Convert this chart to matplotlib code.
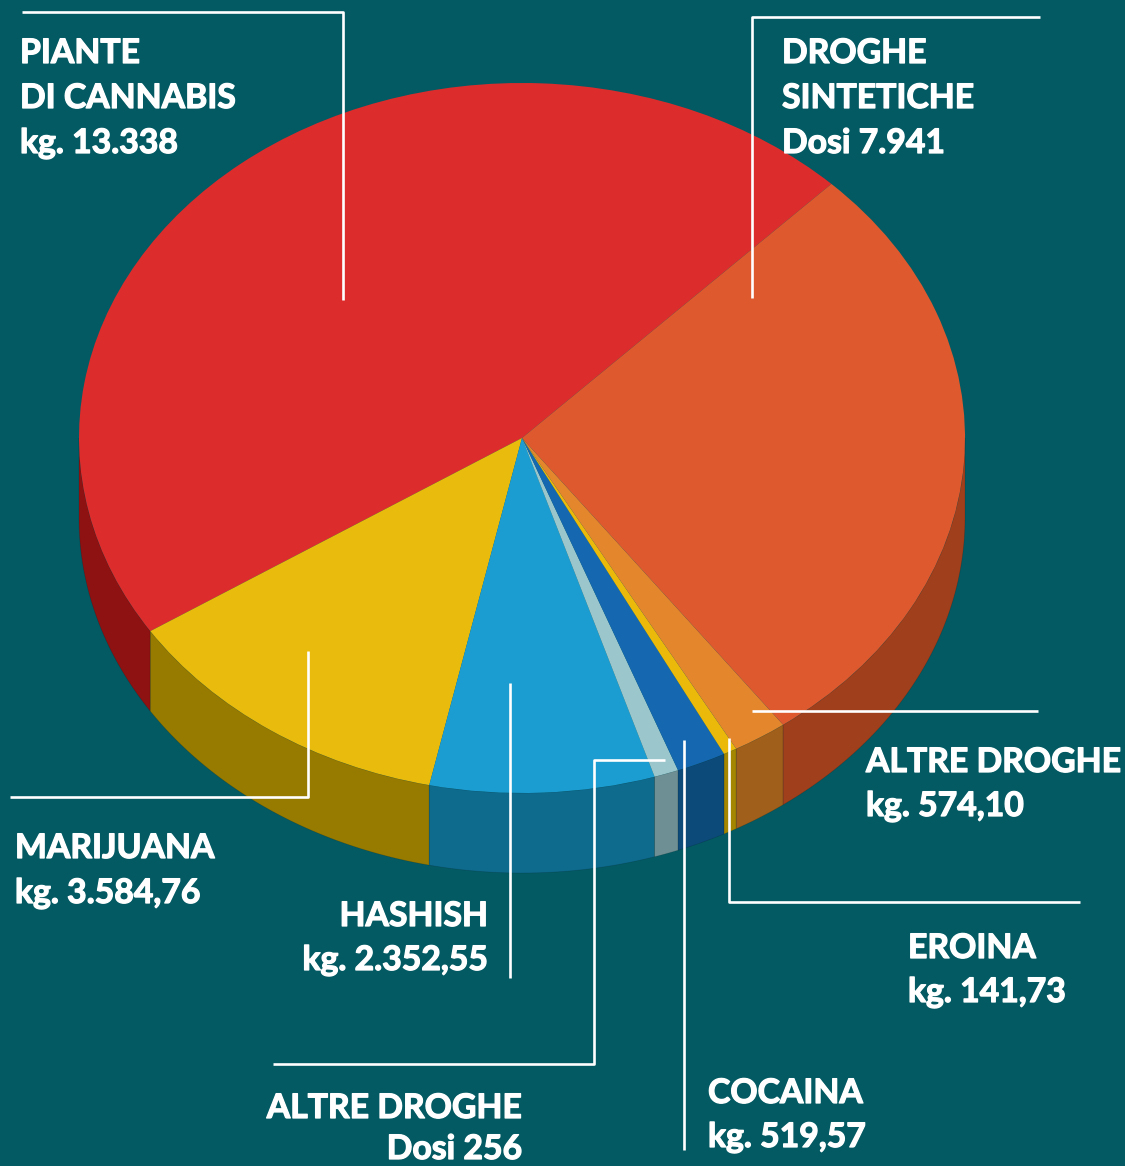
import numpy as np
import matplotlib
matplotlib.use("Agg")
import matplotlib.pyplot as plt
from matplotlib.transforms import Affine2D
from matplotlib.patches import Polygon
import matplotlib.patheffects as pe

# ---- data ----
categories = ["PIANTE DI CANNABIS", "MARIJUANA", "HASHISH", "ALTRE DROGHE (Dosi)",
              "COCAINA", "EROINA", "ALTRE DROGHE (kg)", "DROGHE SINTETICHE"]
values = [13338, 3584.76, 2352.55, 256, 519.57, 141.73, 574.10, 7941]
top_colors = ["#DD2C2C", "#E8BB0C", "#1C9DD2", "#9AC6CC", "#1568B0", "#EAB90A", "#E4862C", "#DE5A2E"]
side_colors = ["#8E1212", "#977A00", "#0E6B8E", "#6E9095", "#0C4A7A", "#A58600", "#A05F1A", "#A03F1C"]
label_lines = {
    "cannabis": ["PIANTE", "DI CANNABIS", "kg. 13.338"],
    "sintetiche": ["DROGHE", "SINTETICHE", "Dosi 7.941"],
    "altre_kg": ["ALTRE DROGHE", "kg. 574,10"],
    "eroina": ["EROINA", "kg. 141,73"],
    "cocaina": ["COCAINA", "kg. 519,57"],
    "altre_dosi": ["ALTRE DROGHE", "Dosi 256"],
    "hashish": ["HASHISH", "kg. 2.352,55"],
    "marijuana": ["MARIJUANA", "kg. 3.584,76"],
}
start_angle = 45.7

BG = "#045A63"
W, H = 1125, 1166
fig = plt.figure(figsize=(W / 100, H / 100), dpi=100, facecolor=BG)
ax = fig.add_axes([0, 0, 1, 1])
ax.set_facecolor(BG)

cx, cy, rx, ry, depth = 522, 438, 443, 355, 80

wedges, _ = ax.pie(values, colors=top_colors, startangle=start_angle, counterclock=True,
                   wedgeprops=dict(linewidth=0))
tr = Affine2D().scale(rx, -ry).translate(cx, cy) + ax.transData
for w in wedges:
    w.set_transform(tr)
    w.set_zorder(5)

ax.set_aspect("auto")
ax.set_xlim(0, W)
ax.set_ylim(H, 0)
ax.axis("off")

# side walls (front half of the ellipse)
for w, sc in zip(wedges, side_colors):
    t1, t2 = w.theta1, w.theta2
    for off in (0, 360):
        a = max(t1, 180 + off)
        b = min(t2, 360 + off)
        if b > a:
            th = np.radians(np.linspace(a, b, 80))
            xs = cx + rx * np.cos(th)
            ys = cy - ry * np.sin(th)
            pts = np.column_stack([np.concatenate([xs, xs[::-1]]),
                                   np.concatenate([ys, ys[::-1] + depth])])
            ax.add_patch(Polygon(pts, closed=True, facecolor=sc, edgecolor="#00000022",
                                 linewidth=0.6, zorder=3))

# leader lines
lw = 1.9
lines = [
    [(22, 12), (343, 12), (343, 300)],
    [(1040, 17), (752, 17), (752, 298)],
    [(752, 711), (1038, 711)],
    [(729, 738), (729, 902), (1080, 902)],
    [(684, 740), (684, 1150)],
    [(665, 760), (594, 760), (594, 1064), (273, 1064)],
    [(510, 683), (510, 978)],
    [(308, 651), (308, 797), (10, 797)],
]
for ln in lines:
    xs, ys = zip(*ln)
    ax.plot(xs, ys, color="white", lw=lw, zorder=8, solid_capstyle="butt")

FONT = "Lato"
FS = 24.3
effects = [pe.withStroke(linewidth=0.9, foreground="white")]
def put(lines_, x, y0, ha="left", dy=45):
    for i, s in enumerate(lines_):
        ax.text(x, y0 + i * dy, s, color="white", fontsize=FS, fontweight="bold",
                family=FONT, ha=ha, va="baseline", zorder=9, path_effects=effects)

put(label_lines["cannabis"], 20, 63)
put(label_lines["sintetiche"], 782, 63)
put(label_lines["altre_kg"], 866, 772, dy=44)
put(label_lines["eroina"], 908, 958, dy=44)
put(label_lines["cocaina"], 708, 1103, dy=44)
put(label_lines["altre_dosi"], 522, 1118, ha="right", dy=41)
put(label_lines["hashish"], 488, 926, ha="right", dy=44)
put(label_lines["marijuana"], 15, 858, dy=45)

fig.savefig("out.png", dpi=100, facecolor=BG)
